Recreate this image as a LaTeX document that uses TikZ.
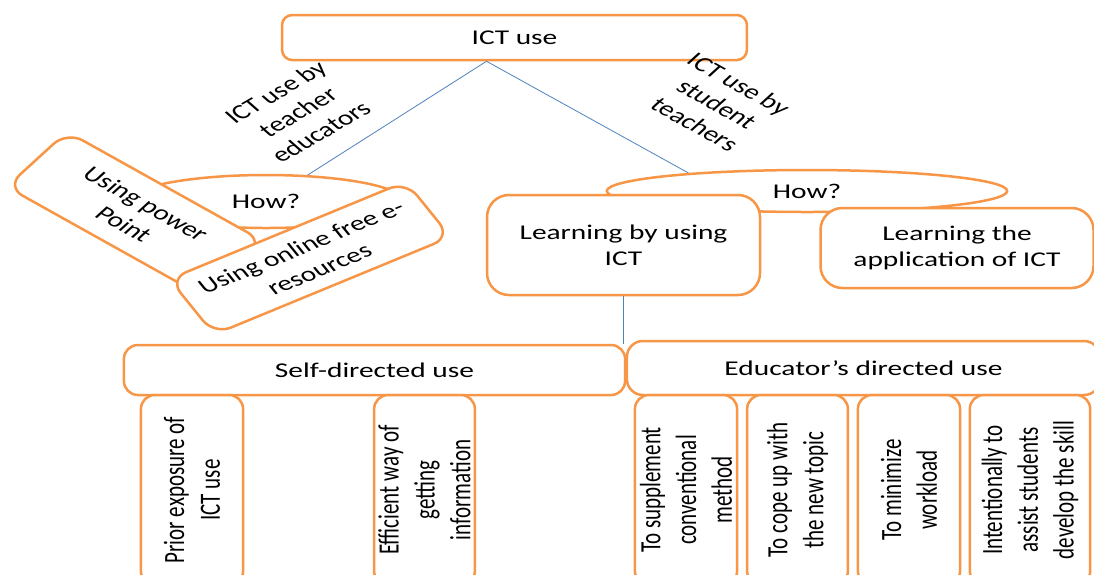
\documentclass[tikz,border=0pt]{standalone}
\usepackage{fontspec}
\setmainfont{Carlito}
\usetikzlibrary{shapes.geometric,calc}
\definecolor{boxorange}{RGB}{247,150,70}
\definecolor{linkblue}{RGB}{79,129,189}
\tikzset{
  txt/.style={font=\fontsize{21}{25.6}\selectfont, align=center, inner sep=0pt},
  obox/.style={txt, draw=boxorange, line width=2.5pt, fill=white, rectangle, rounded corners=#1},
  obox/.default=15pt,
  oell/.style={txt, draw=boxorange, line width=2.5pt, fill=white, ellipse},
  link/.style={draw=linkblue, line width=0.8pt},
}
\begin{document}
\begin{tikzpicture}
\begin{scope}[x=0.714286pt, y=-1pt, xscale=1.4, transform shape]
\useasboundingbox (0,0) rectangle (1094,574);
\clip (0,0) rectangle (1094,574);

% top
\node[obox=10pt, minimum width=332pt, minimum height=45pt] (ict) at (514.5,37.5) {ICT use};
\node[txt, rotate=39] (lblL) at (298,112) {ICT use by\\teacher\\educators};
\node[txt, rotate=-38] (lblR) at (717,104) {ICT use by\\student\\teachers};

% left branch
\node[oell, minimum width=197pt, minimum height=53pt] (howL) at (266,201.5) {How?};
\node[obox=18pt, rotate=-38, minimum width=178pt, minimum height=70pt] (ppt) at (135,214) {Using power\\Point};
\node[obox=18pt, rotate=30, minimum width=195pt, minimum height=64pt] (online) at (310,258) {Using online free e-\\resources};

% right branch
\node[oell, minimum width=286pt, minimum height=42pt] (howR) at (807,191) {How?};
\node[obox=22pt, minimum width=195pt, minimum height=100pt] (learn) at (623.5,245) {Learning by using\\ICT};
\node[obox=22pt, minimum width=195pt, minimum height=80pt] (app) at (957,248) {Learning the\\application of ICT};

% second level
\node[obox=14pt, minimum width=358pt, minimum height=50pt] (self) at (374.5,370) {Self-directed use};
\node[obox=16pt, minimum width=338pt, minimum height=54pt] (edu) at (863.5,368) {Educator’s directed use};

% vertical boxes
\node[obox=14pt, rotate=90, minimum width=190pt, minimum height=73pt] (prior) at (192,490) {Prior exposure of\\ICT use};
\node[obox=14pt, rotate=90, minimum width=190pt, minimum height=72pt] (eff) at (424.5,490) {Efficient way of\\getting\\information};
\node[obox=14pt, rotate=90, minimum width=190pt, minimum height=73pt] (supp) at (686,490) {To supplement\\conventional\\method};
\node[obox=14pt, rotate=90, minimum width=190pt, minimum height=72pt] (cope) at (797.5,490) {To cope up with\\the new topic};
\node[obox=14pt, rotate=90, minimum width=190pt, minimum height=73pt] (mini) at (909,490) {To minimize\\workload};
\node[obox=14pt, rotate=90, minimum width=190pt, minimum height=86pt] (intent) at (1030,490) {Intentionally to\\assist students\\develop the skill};

% connectors
\coordinate (split) at ($(ict.south west)!0.44!(ict.south east)$);
\draw[link] (split) -- (howL);
\draw[link] (split) -- (howR.168);
\draw[link] (learn.south) -- (learn.south |- self.north);
\end{scope}
\end{tikzpicture}
\end{document}
